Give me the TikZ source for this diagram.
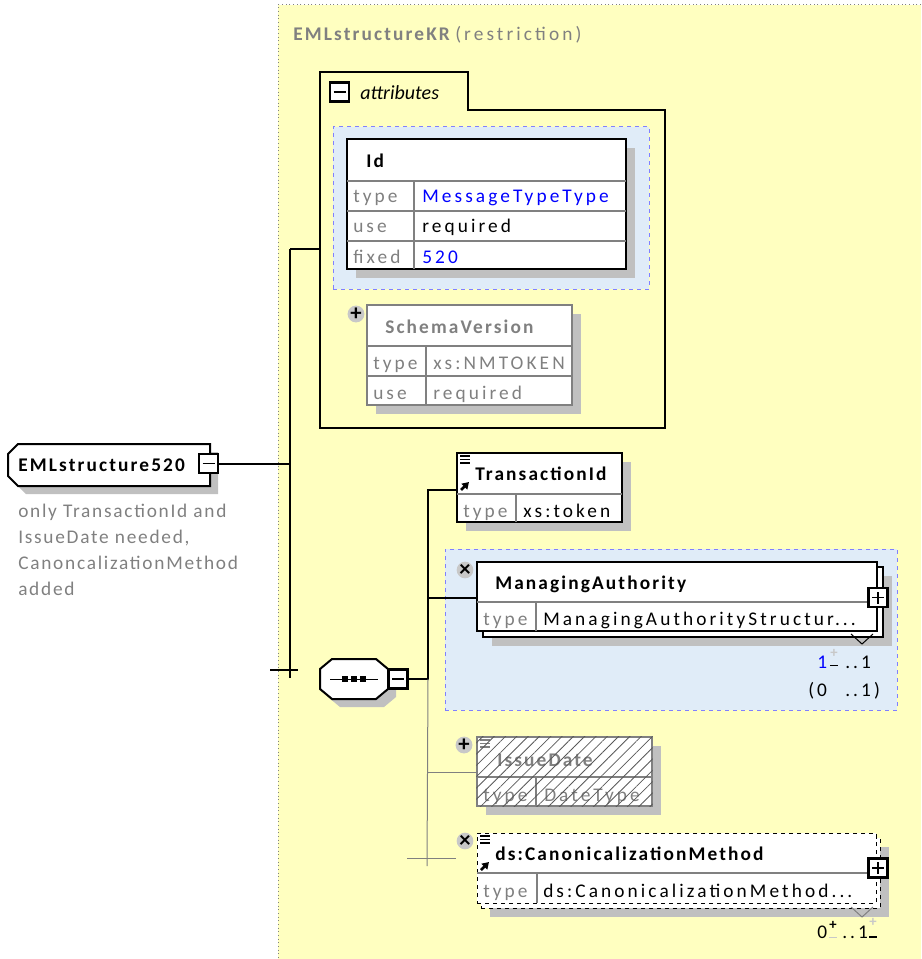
\documentclass[tikz,border=0pt]{standalone}
\usepackage{fontspec}
\setmainfont{Carlito}
\newfontfamily\valfont[LetterSpace=16]{Carlito}
\newfontfamily\headfont[LetterSpace=11]{Carlito}
\newfontfamily\notefont[LetterSpace=9]{Carlito}
\usetikzlibrary{positioning,fit,shadows,patterns.meta,arrows.meta}

\definecolor{PanelColor}{HTML}{FFFFC0}
\definecolor{AreaColor}{HTML}{E0ECF8}
\definecolor{AreaBorder}{HTML}{8080FF}
\definecolor{ShadowColor}{HTML}{C0C0C0}
\definecolor{BadgeColor}{HTML}{C8C8C8}
\definecolor{LabelGray}{HTML}{808080}
\definecolor{ValueBlue}{HTML}{0000FF}

\tikzset{
  txt/.style={anchor=base west, inner sep=0pt},
  keytxt/.style={txt, text=LabelGray, font=\fontsize{14.5}{17}\selectfont\valfont},
  valtxt/.style={txt, font=\fontsize{14.5}{17}\selectfont\valfont},
  headtxt/.style={txt, font=\fontsize{14.5}{17}\selectfont\headfont\bfseries},
  notetxt/.style={txt, text=LabelGray, font=\fontsize{14.5}{17}\selectfont\notefont},
  multtxt/.style={txt, font=\fontsize{14.5}{17}\selectfont\valfont},
  marktxt/.style={anchor=center, inner sep=0pt, font=\fontsize{11}{11}\selectfont\bfseries},
  minusmark/.style={line width=1.2pt},
  elem/.style={fit={#1}, inner sep=0pt, draw, line width=1.5pt, fill=white,
    drop shadow={shadow xshift=6.75pt, shadow yshift=-6.75pt, fill=ShadowColor, opacity=1}},
  plain/.style={fit={#1}, inner sep=0pt, draw, line width=1.5pt, fill=white},
  area/.style={fit={#1}, inner sep=0pt, fill=AreaColor, draw=AreaBorder, line width=0.75pt, dashed},
  rowline/.style={draw=LabelGray, line width=1pt},
  conn/.style={line width=1.5pt},
  thinconn/.style={draw=LabelGray, line width=0.75pt},
  badge/.style={circle, fill=BadgeColor, minimum size=12.5pt, inner sep=0pt,
    font=\fontsize{17}{17}\selectfont\bfseries},
  minusbox/.style={draw, fill=white, line width=1.8pt, minimum size=14pt, inner sep=0pt,
    path picture={\draw[line width=1pt] ([xshift=2.5pt]path picture bounding box.west)
      -- ([xshift=-2.5pt]path picture bounding box.east);}},
  plusbox/.style={draw, fill=white, line width=1.8pt, minimum size=14pt, inner sep=0pt,
    path picture={\draw[line width=1pt] ([xshift=2.5pt]path picture bounding box.west)
      -- ([xshift=-2.5pt]path picture bounding box.east);
      \draw[line width=1pt] ([yshift=2.5pt]path picture bounding box.south)
      -- ([yshift=-2.5pt]path picture bounding box.north);}},
  refmark/.pic={
    \foreach \ly in {3,6.5,10} \draw[line width=1pt] (3,\ly) -- (13,\ly);
    \draw[line width=2pt, -{Triangle[length=5pt,width=6pt]}] (4,37) -- (12,29);
  },
  docmark/.pic={
    \foreach \ly in {3,6.5,10} \draw[line width=1pt] (3,\ly) -- (13,\ly);
  }
}

\begin{document}
\begin{tikzpicture}[x=0.75pt, y=-0.75pt]
  \useasboundingbox (0,0) rectangle (921,959);

  % ===== Panel =====
  \fill[PanelColor] (278,5) rectangle (921,959);
  \draw[dotted, LabelGray, line width=0.75pt] (921,5) -- (278,5) -- (278,959);
  \node[headtxt, text=LabelGray] (paneltitle) at (293,41) {EMLstructureKR};
  \node[valtxt, text=LabelGray] (panelkind) at (455,41) {(restriction)};

  % ===== attributes =====
  \draw[line width=1.5pt] (320,428) -- (320,72) -- (468,72) -- (468,110)
    -- (665,110) -- (665,428) -- cycle;
  \node[fit={(320,72)(665,428)}, inner sep=0pt] (attrs) {};
  \node[minusbox] (attrminus) at (339.5,92) {};
  \node[txt, font=\fontsize{15}{17}\selectfont\itshape] (attrlabel) at (360,100) {attributes};

  % Id
  \node[area={(333,127)(649,289)}] (idarea) {};
  \node[elem={(347,139)(626,269)}] (idbox) {};
  \draw[rowline] (347,181) -- (626,181);
  \draw[rowline] (347,211) -- (626,211);
  \draw[rowline] (347,241) -- (626,241);
  \draw[rowline] (414,181) -- (414,269);
  \node[headtxt] (idname) at (366,168) {Id};
  \node[keytxt] (idtypek) at (353,203) {type};
  \node[valtxt, text=ValueBlue] (idtypev) at (422,203) {MessageTypeType};
  \node[keytxt] (idusek) at (353,233) {use};
  \node[valtxt] (idusev) at (422,233) {required};
  \node[keytxt] (idfixk) at (353,263) {fixed};
  \node[valtxt, text=ValueBlue] (idfixv) at (422,263) {520};

  % SchemaVersion
  \node[elem={(367,305)(572,405)}, draw=LabelGray, line width=1pt] (schemabox) {};
  \draw[rowline] (367,346) -- (572,346);
  \draw[rowline] (367,376) -- (572,376);
  \draw[rowline] (426,346) -- (426,405);
  \node[badge] (schemaplus) at (356,314) {+};
  \node[headtxt, text=LabelGray] (schemaname) at (385,333) {SchemaVersion};
  \node[keytxt] (schematypek) at (373,369) {type};
  \node[keytxt] (schematypev) at (433,369) {xs:NMTOKEN};
  \node[keytxt] (schemausek) at (373,399) {use};
  \node[keytxt] (schemausev) at (433,399) {required};

  % ===== Root =====
  \fill[ShadowColor, shift={(8,8)}] (18,444) -- (210,444) -- (210,486) -- (18,486)
    -- (8,476) -- (8,454) -- cycle;
  \draw[line width=1.5pt, fill=white] (18,444) -- (210,444) -- (210,486) -- (18,486)
    -- (8,476) -- (8,454) -- cycle;
  \node[headtxt] (root) at (18,471) {EMLstructure520};
  \node[minusbox] (rootminus) at (208.5,463.5) {};
  \node[notetxt] (note1) at (18,517) {only TransactionId and};
  \node[notetxt] (note2) at (18,543) {IssueDate needed,};
  \node[notetxt] (note3) at (18,569) {CanoncalizationMethod};
  \node[notetxt] (note4) at (18,595) {added};

  % ===== Sequence =====
  \fill[ShadowColor, shift={(8,8)}] (332,659) -- (376,659) -- (388,669) -- (388,689)
    -- (376,699) -- (332,699) -- (320,689) -- (320,669) -- cycle;
  \draw[line width=1.5pt, fill=white] (332,659) -- (376,659) -- (388,669) -- (388,689)
    -- (376,699) -- (332,699) -- (320,689) -- (320,669) -- cycle;
  \node[fit={(320,659)(388,699)}, inner sep=0pt] (seq) {};
  \draw[line width=0.75pt] (330,679) -- (378,679);
  \foreach \sx in {342,351,360} \fill (\sx,676) rectangle ++(6,6);
  \node[minusbox] (seqminus) at (398,679) {};

  % TransactionId
  \node[elem={(457,453)(622,522)}] (transid) {};
  \draw[rowline] (457,494) -- (622,494);
  \draw[rowline] (516,494) -- (516,522);
  \pic at (457,453) {refmark};
  \node[headtxt] (transname) at (475,480) {TransactionId};
  \node[keytxt] (transtypek) at (463,517) {type};
  \node[valtxt] (transtypev) at (523,517) {xs:token};

  % ManagingAuthority
  \node[area={(445,549)(897,710)}] (maarea) {};
  \node[elem={(483,567)(883,637)}, line width=1pt] (maback) {};
  \node[plain={(477,562)(877,631)}] (ma) {};
  \draw[rowline] (477,602) -- (877,602);
  \draw[rowline] (536,602) -- (536,631);
  \node[badge] (maclose) at (465,570) {×};
  \node[headtxt] (maname) at (495,589) {ManagingAuthority};
  \node[keytxt] (matypek) at (483,625) {type};
  \node[valtxt] (matypev) at (543,625) {ManagingAuthorityStructur...};
  \node[plusbox] (maplus) at (878,597.5) {};
  \draw[line width=0.75pt] (851,634) -- (862,644) -- (873,634);
  \node[multtxt, text=ValueBlue] (mamin) at (817,668) {1};
  \node[marktxt, text=BadgeColor] (maminup) at (834,653) {+};
  \draw[minusmark] ([xshift=-3pt,yshift=-6pt]maminup.south)
    -- ([xshift=3pt,yshift=-6pt]maminup.south);
  \node[multtxt] (mamax) at (845,668) {..1};
  \node[multtxt] (maorig) at (808,696) {(0};
  \node[multtxt] (maorigmax) at (845,696) {..1)};

  % IssueDate (prohibited)
  \node[elem={(477,737)(652,806)}, draw=LabelGray, line width=1pt] (issue) {};
  \draw[rowline] (477,777) -- (652,777);
  \draw[rowline] (536,777) -- (536,806);
  \begin{scope}[LabelGray]
    \pic at (477,737) {docmark};
  \end{scope}
  \node[headtxt, text=LabelGray] (issuename) at (497,766) {IssueDate};
  \node[keytxt] (issuetypek) at (483,801) {type};
  \node[keytxt] (issuetypev) at (544,801) {DateType};
  \fill[pattern={Lines[angle=45, distance=6pt, line width=0.6pt]}, pattern color=black!65]
    (issue.south west) rectangle (issue.north east);
  \node[badge] (issueplus) at (464,745) {+};

  % ds:CanonicalizationMethod
  \node[elem={(481,838)(880,908)}, draw=black, line width=0.75pt, dashed] (canback) {};
  \node[plain={(477,833)(876,903)}, line width=0.75pt, dashed] (canon) {};
  \draw[rowline] (477,873) -- (876,873);
  \draw[rowline] (537,873) -- (537,903);
  \pic at (477,833) {refmark};
  \node[badge] (canclose) at (465,841) {×};
  \node[headtxt] (canname) at (495,860) {ds:CanonicalizationMethod};
  \node[keytxt] (cantypek) at (483,897) {type};
  \node[valtxt] (cantypev) at (543,897) {ds:CanonicalizationMethod...};
  \node[plusbox] (canplus) at (878,868) {};
  \draw[line width=0.75pt, LabelGray] (851,907) -- (862,917) -- (873,907);
  \node[multtxt] (canmin) at (817,938) {0};
  \node[marktxt] (canminup) at (833,925) {+};
  \draw[minusmark, BadgeColor] ([xshift=-3pt,yshift=-6pt]canminup.south)
    -- ([xshift=3pt,yshift=-6pt]canminup.south);
  \node[multtxt] (canmax) at (842,938) {..1};
  \node[marktxt, text=BadgeColor] (canmaxup) at (873,922) {+};
  \draw[minusmark] ([xshift=-3pt,yshift=-8pt]canmaxup.south)
    -- ([xshift=3pt,yshift=-8pt]canmaxup.south);

  % ===== Connectors =====
  \coordinate (trunktop) at (290,249);
  \coordinate (trunkbot) at (290,678);
  \coordinate (tickl) at (270,670);
  \coordinate (tickr) at (298,670);
  \draw[conn] (rootminus.east) -- (rootminus.east -| trunktop);
  \draw[conn] (trunktop) -- (trunkbot);
  \draw[conn] (trunktop) -- (trunktop -| attrs.west);
  \draw[conn] (tickl) -- (tickr);

  \coordinate (seqtop) at (428,490);
  \coordinate (seqbot) at (428,679);
  \coordinate (seqma) at (428,598);
  \coordinate (seqissue) at (427,772);
  \coordinate (seqend) at (427,866);
  \coordinate (canl) at (407,858);
  \draw[conn] (seqminus.east) -- (seqbot) -- (seqtop) -- (seqtop -| transid.west);
  \draw[conn] (seqma) -- (seqma -| ma.west);
  \draw[thinconn] (seqbot) -- (seqend);
  \draw[thinconn] (seqissue) -- (seqissue -| issue.west);
  \draw[thinconn] (canl) -- (canl -| canclose.west);

\end{tikzpicture}
\end{document}
